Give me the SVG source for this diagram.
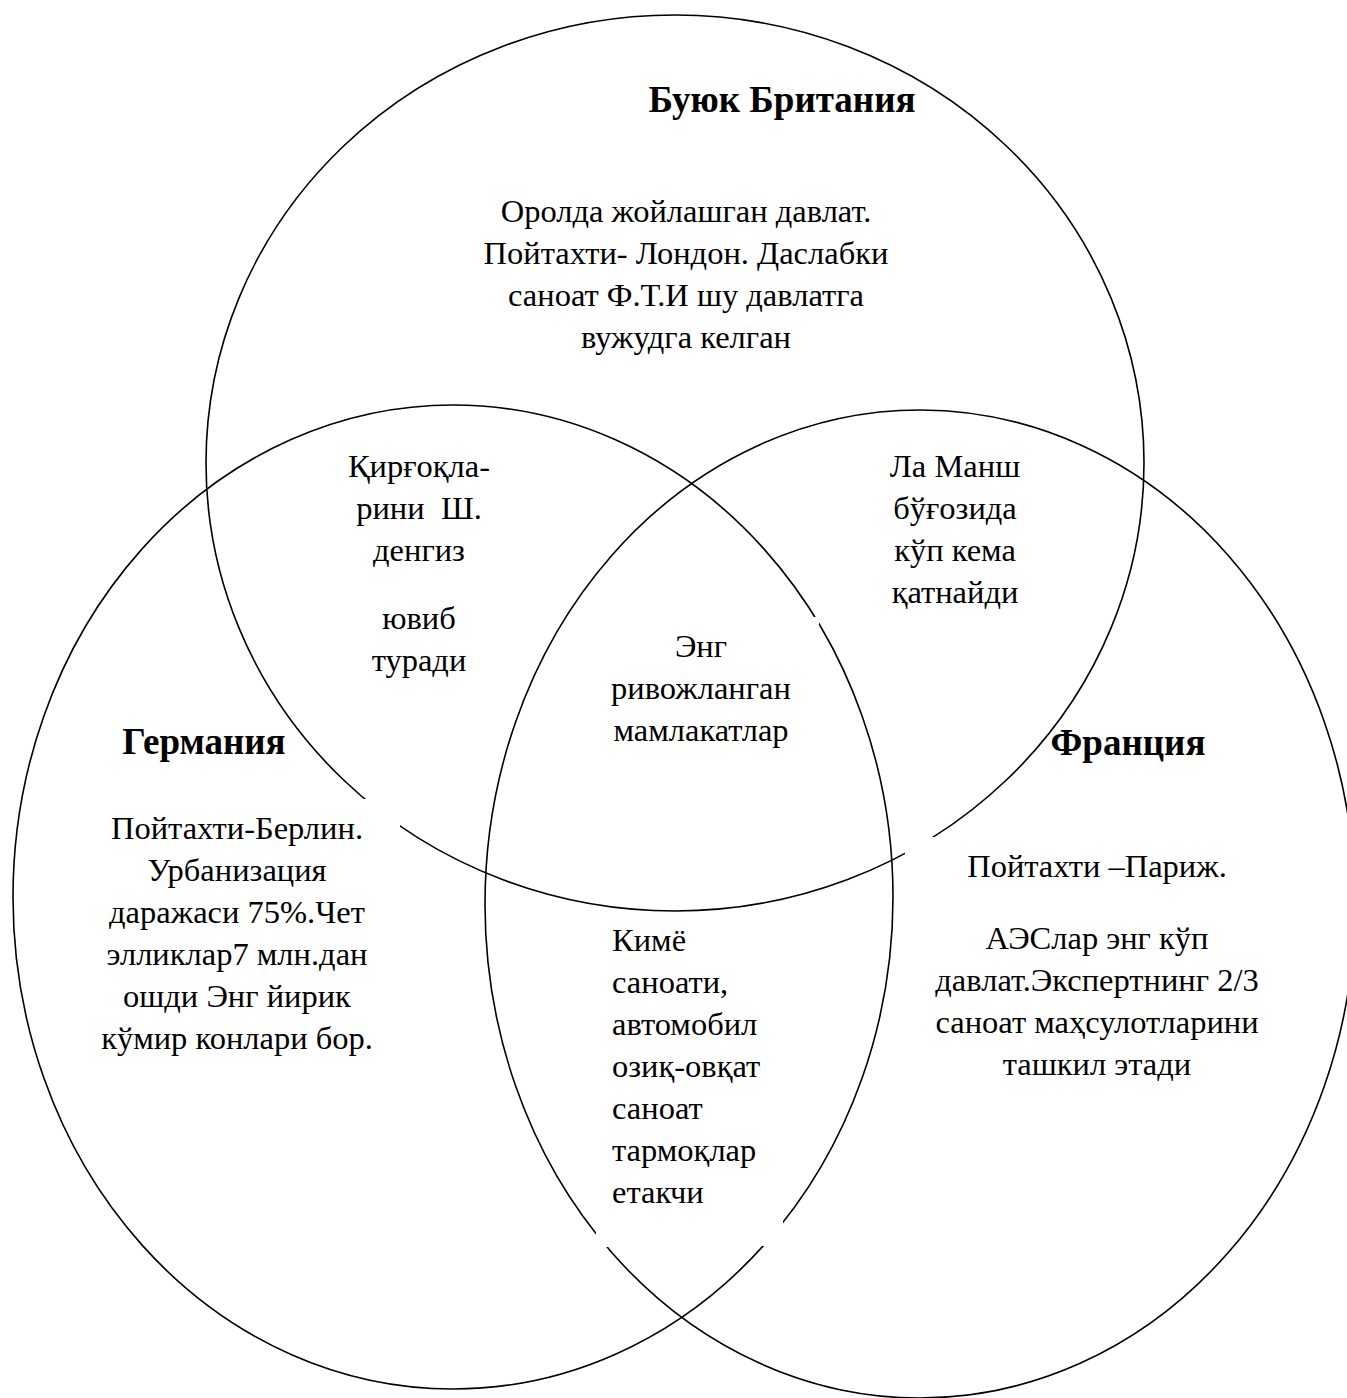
<svg xmlns="http://www.w3.org/2000/svg" width="1347" height="1398" viewBox="0 0 1347 1398">
<style>
.set{fill:none;stroke:#000;stroke-width:1.6}
.t{font-family:"Liberation Serif","Times New Roman",serif;font-size:32.5px;fill:#000;text-anchor:middle}
.tl{font-family:"Liberation Serif","Times New Roman",serif;font-size:32.5px;fill:#000;text-anchor:start}
.h{font-family:"Liberation Serif","Times New Roman",serif;font-size:37px;font-weight:bold;fill:#000;text-anchor:middle}
.gap{fill:#fff;stroke:none}
</style>
<rect width="1347" height="1398" fill="#fff"/>
<g id="britain-set"><ellipse class="set" cx="675" cy="463" rx="469" ry="448"/></g>
<g id="germany-set"><ellipse class="set" cx="453" cy="897" rx="440" ry="492"/></g>
<g id="france-set"><ellipse class="set" cx="920" cy="904" rx="435" ry="494"/></g>
<g id="connectors"></g>
<g id="textbox-gaps">
<rect class="gap" x="330" y="799" width="70" height="60"/>
<rect class="gap" x="905" y="837" width="60" height="60"/>
<rect class="gap" x="780" y="617" width="39" height="30"/>
<rect class="gap" x="596" y="1200" width="40" height="47"/>
<rect class="gap" x="740" y="1200" width="43" height="46"/>
</g>
<g id="britain">
<text class="h" x="782" y="112">Буюк Британия</text>
<text class="t" x="686" y="222">Оролда жойлашган давлат.</text>
<text class="t" x="686" y="264">Пойтахти- Лондон. Даслабки</text>
<text class="t" x="686" y="306">саноат Ф.Т.И шу давлатга</text>
<text class="t" x="686" y="348">вужудга келган</text>
</g>
<g id="britain-germany">
<text class="t" x="419" y="477">Қирғоқла-</text>
<text class="t" x="419" y="519" xml:space="preserve">рини  Ш.</text>
<text class="t" x="419" y="561">денгиз</text>
<text class="t" x="419" y="629">ювиб</text>
<text class="t" x="419" y="671">туради</text>
</g>
<g id="britain-france">
<text class="t" x="955" y="477">Ла Манш</text>
<text class="t" x="955" y="519">бўғозида</text>
<text class="t" x="955" y="561">кўп кема</text>
<text class="t" x="955" y="603">қатнайди</text>
</g>
<g id="all-three">
<text class="t" x="701" y="657">Энг</text>
<text class="t" x="701" y="699">ривожланган</text>
<text class="t" x="701" y="741">мамлакатлар</text>
</g>
<g id="germany">
<text class="h" x="204" y="754">Германия</text>
<text class="t" x="237" y="839">Пойтахти-Берлин.</text>
<text class="t" x="237" y="881">Урбанизация</text>
<text class="t" x="237" y="923">даражаси 75%.Чет</text>
<text class="t" x="237" y="965">элликлар7 млн.дан</text>
<text class="t" x="237" y="1007">ошди Энг йирик</text>
<text class="t" x="237" y="1049">кўмир конлари бор.</text>
</g>
<g id="france">
<text class="h" x="1128" y="755">Франция</text>
<text class="t" x="1097" y="877">Пойтахти –Париж.</text>
<text class="t" x="1097" y="949">АЭСлар энг кўп</text>
<text class="t" x="1097" y="991">давлат.Экспертнинг 2/3</text>
<text class="t" x="1097" y="1033">саноат маҳсулотларини</text>
<text class="t" x="1097" y="1075">ташкил этади</text>
</g>
<g id="germany-france">
<text class="tl" x="612" y="951">Кимё</text>
<text class="tl" x="612" y="993">саноати,</text>
<text class="tl" x="612" y="1035">автомобил</text>
<text class="tl" x="612" y="1077">озиқ-овқат</text>
<text class="tl" x="612" y="1119">саноат</text>
<text class="tl" x="612" y="1161">тармоқлар</text>
<text class="tl" x="612" y="1203">етакчи</text>
</g>
</svg>
